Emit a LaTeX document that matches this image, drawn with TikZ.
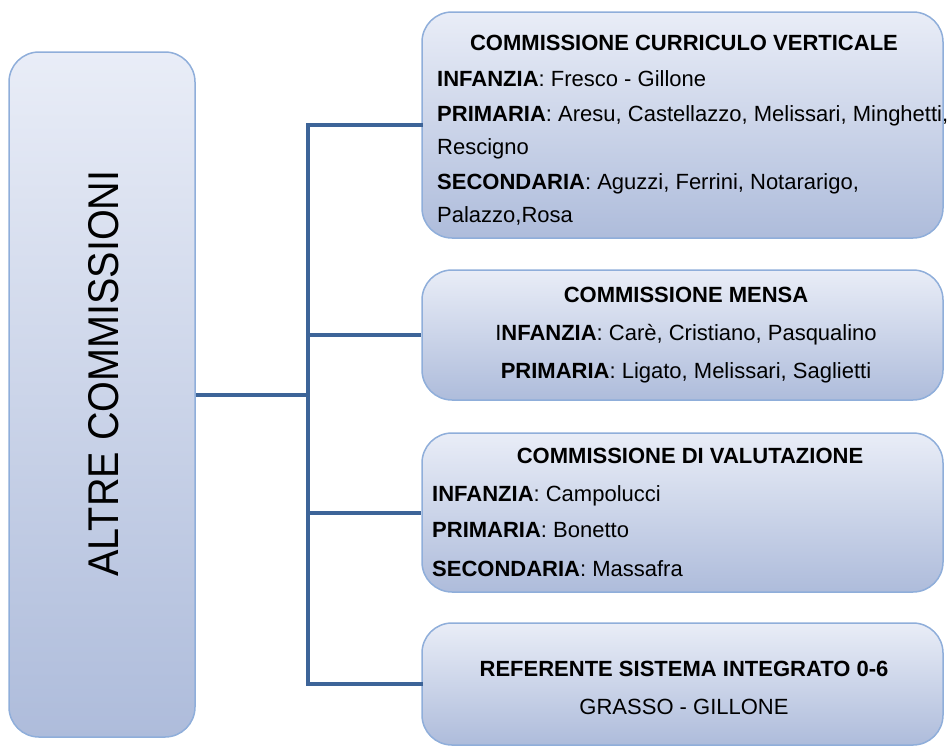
\documentclass[tikz,border=0pt]{standalone}
\usepackage{fontspec}
\setmainfont{Liberation Sans}
\newfontfamily\narrowfont[FakeStretch=0.92]{Liberation Sans}
\definecolor{boxtop}{HTML}{E9EDF7}
\definecolor{boxbot}{HTML}{AEBCDB}
\definecolor{boxline}{HTML}{8FAEDA}
\definecolor{conn}{HTML}{3D6498}
\begin{document}
\begin{tikzpicture}[x=1pt,y=-1pt,
  box/.style={draw=boxline, line width=1.5pt, rounded corners=30pt, top color=boxtop, bottom color=boxbot, inner sep=0pt},
  txt/.style={inner sep=0pt, font=\fontsize{22}{22}\selectfont},
  conline/.style={draw=conn, line width=4pt}]
\useasboundingbox (0,0) rectangle (947,747);
% boxes
\node[box, minimum width=186pt, minimum height=685pt] (L) at (102,394.5) {};
\node[box, minimum width=521pt, minimum height=226pt] (b1) at (682.5,125) {};
\node[box, minimum width=521pt, minimum height=130pt] (b2) at (682.5,335) {};
\node[box, minimum width=521pt, minimum height=159pt] (b3) at (682.5,512.5) {};
\node[box, minimum width=521pt, minimum height=122pt] (b4) at (682.5,684) {};
% connectors
\coordinate (J) at (308,394.5);
\draw[conline] (L.east) -- (J);
\draw[conline, line cap=rect] (b1.west) -| (J) |- (b4.west);
\draw[conline] (J |- b2.west) -- (b2.west);
\draw[conline] (J |- b3.west) -- (b3.west);
% left label
\node[inner sep=0pt, rotate=90, anchor=base, font=\narrowfont\fontsize{43}{43}\selectfont] (lt) at (118,373.5) {ALTRE COMMISSIONI};
% box 1
\node[txt, anchor=base] (t10) at (684,50) {\textbf{COMMISSIONE CURRICULO VERTICALE}};
\node[txt, anchor=base west] (t11) at (437,86) {\textbf{INFANZIA}: Fresco - Gillone};
\node[txt, anchor=base west] (t12) at (437,121) {\textbf{PRIMARIA}: Aresu, Castellazzo, Melissari, Minghetti,};
\node[txt, anchor=base west] (t13) at (437,154) {Rescigno};
\node[txt, anchor=base west] (t14) at (437,189) {\textbf{SECONDARIA}: Aguzzi, Ferrini, Notararigo,};
\node[txt, anchor=base west] (t15) at (437,222) {Palazzo,Rosa};
% box 2
\node[txt, anchor=base] (t20) at (686,302) {\textbf{COMMISSIONE MENSA}};
\node[txt, anchor=base] (t21) at (686,340) {I\textbf{NFANZIA}: Carè, Cristiano, Pasqualino};
\node[txt, anchor=base] (t22) at (686,378) {\textbf{PRIMARIA}: Ligato, Melissari, Saglietti};
% box 3
\node[txt, anchor=base] (t30) at (690,463) {\textbf{COMMISSIONE DI VALUTAZIONE}};
\node[txt, anchor=base west] (t31) at (432,501) {\textbf{INFANZIA}: Campolucci};
\node[txt, anchor=base west] (t32) at (432,537) {\textbf{PRIMARIA}: Bonetto};
\node[txt, anchor=base west] (t33) at (432,576) {\textbf{SECONDARIA}: Massafra};
% box 4
\node[txt, anchor=base] (t40) at (684,676) {\textbf{REFERENTE SISTEMA INTEGRATO 0-6}};
\node[txt, anchor=base] (t41) at (684,714) {GRASSO - GILLONE};
\end{tikzpicture}
\end{document}
